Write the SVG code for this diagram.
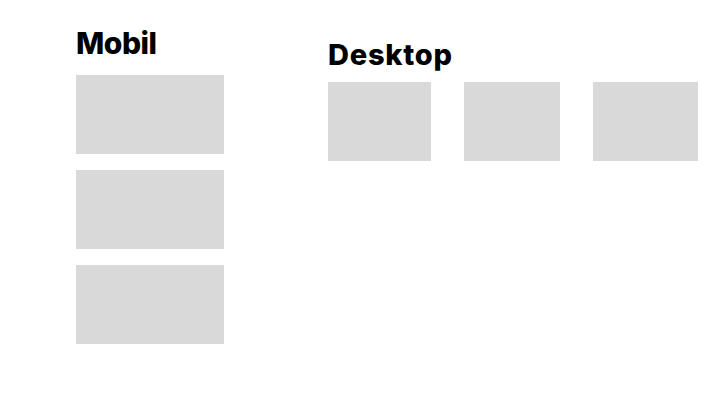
<svg xmlns="http://www.w3.org/2000/svg" width="721" height="419" viewBox="0 0 721 419">
<style>
.box{fill:#d9d9d9}
.h{font-family:Inter,"Liberation Sans",sans-serif;font-weight:800;fill:#000}
</style>
<rect width="721" height="419" fill="#fff"/>
<g id="mobil">
<text class="h" x="76" y="54" font-size="30" textLength="81">Mobil</text>
<rect id="m1" class="box" x="76" y="75" width="148" height="79"/>
<rect id="m2" class="box" x="76" y="170" width="148" height="79"/>
<rect id="m3" class="box" x="76" y="265" width="148" height="79"/>
</g>
<g id="desktop">
<text class="h" x="328" y="65" font-size="29" textLength="124">Desktop</text>
<rect id="d1" class="box" x="328" y="82" width="103" height="79"/>
<rect id="d2" class="box" x="464" y="82" width="96" height="79"/>
<rect id="d3" class="box" x="593" y="82" width="105" height="79"/>
</g>
<g id="connectors"/>
</svg>
